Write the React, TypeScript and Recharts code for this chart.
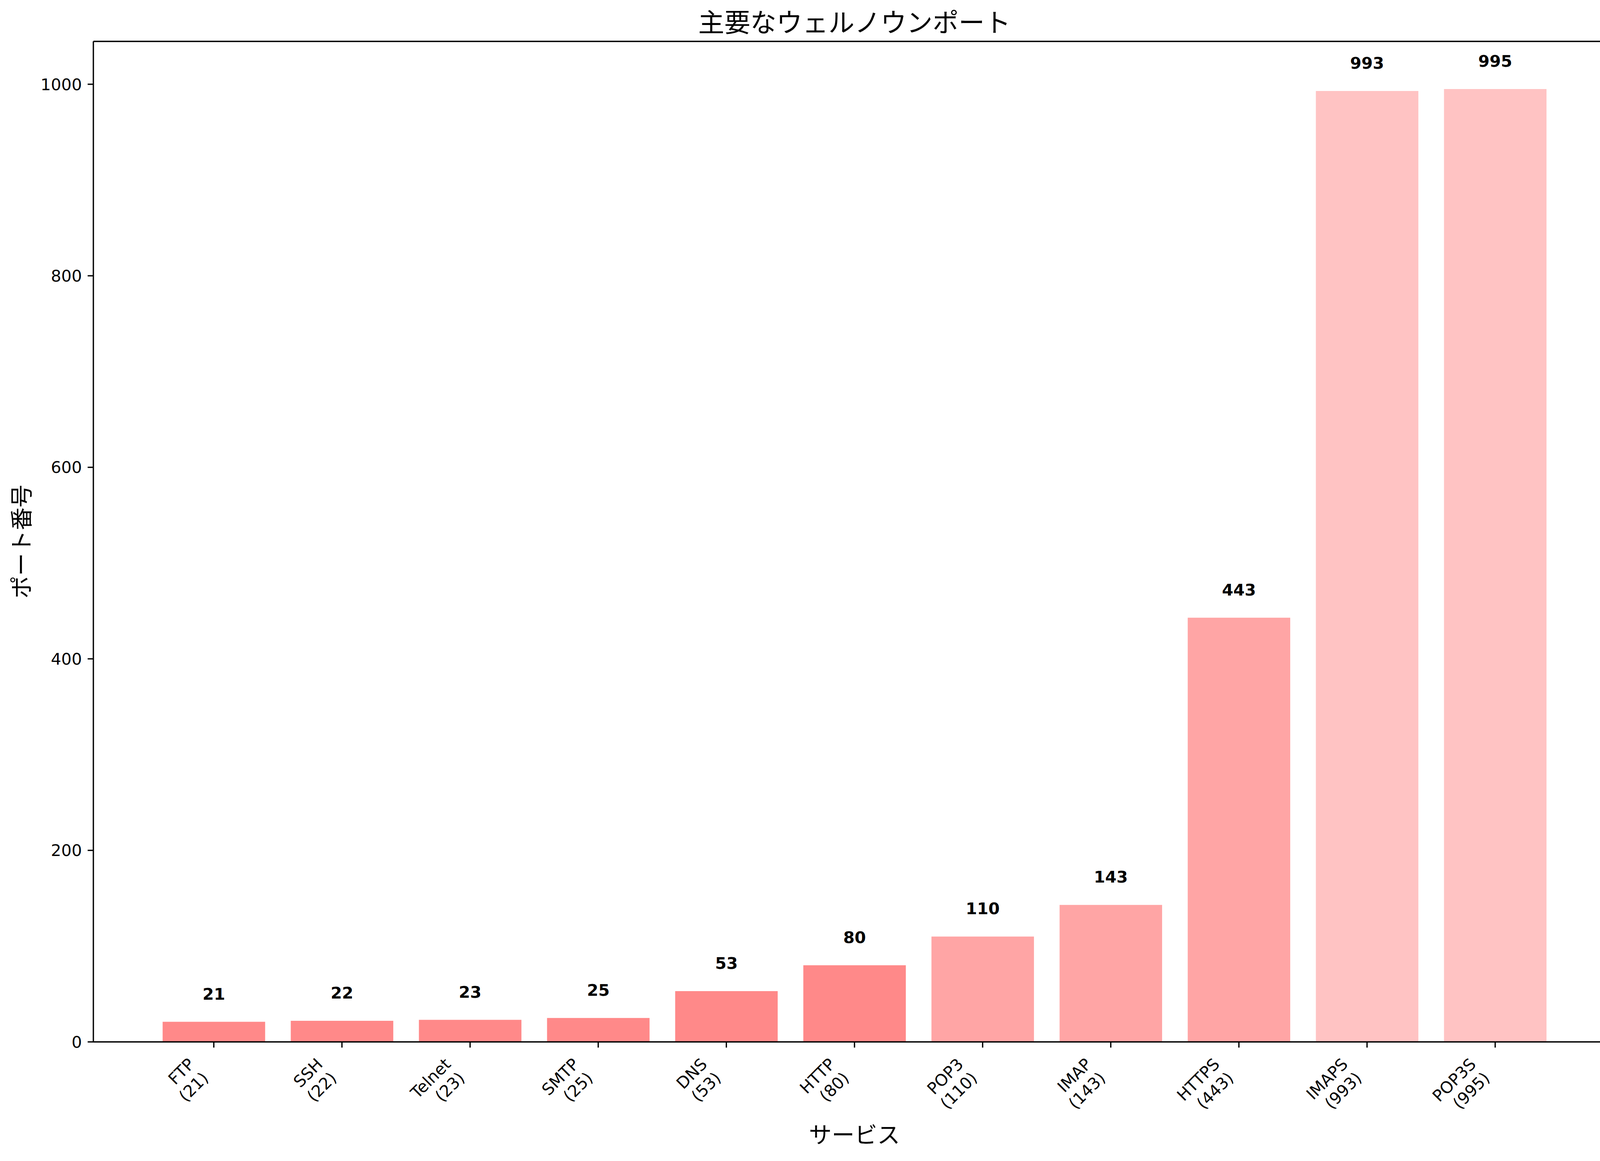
import React from 'react';
import { BarChart, Bar, XAxis, YAxis, Cell, LabelList, ReferenceLine } from 'recharts';

document.body.style.margin = '0';

const SERVICES = ['FTP', 'SSH', 'Telnet', 'SMTP', 'DNS', 'HTTP', 'POP3', 'IMAP', 'HTTPS', 'IMAPS', 'POP3S'];
const PORTS = [21, 22, 23, 25, 53, 80, 110, 143, 443, 993, 995];
const Y_TICKS = [0, 200, 400, 600, 800, 1000];

const W = 4168;
const H = 2973;
const PLOT_L = 239;
const PLOT_R = 4136;
const PLOT_T = 106;
const PLOT_B = 2668;

const FONT = '"DejaVu Sans", "Noto Sans CJK JP", sans-serif';
const PT = 300 / 72; // px per point
const LW = 0.8 * PT;

const N = SERVICES.length;
const PAD = 0.05 * (N - 1 + 0.8);
const X_MIN = -0.4 - PAD;
const X_MAX = N - 1 + 0.4 + PAD;
const Y_MAX = Math.max(...PORTS) * 1.05;
const BAR_PX = 0.8 * (PLOT_R - PLOT_L) / (X_MAX - X_MIN);

const data = SERVICES.map((s, i) => ({ idx: i, name: s, port: PORTS[i] }));

function colorFor(v: number) {
  if (v < 100) return '#FF8989';
  if (v < 500) return '#FFA5A5';
  return '#FFC3C3';
}

// rotated two-line tick label, right-aligned like matplotlib ha='right'
function XTick(props: any) {
  const { x, y, payload } = props;
  const i = payload.value;
  const fs = 10 * PT;
  return (
    <g transform={`translate(${x - 68},${y + 22}) rotate(-45)`}>
      <text textAnchor="end" fontSize={fs} fontFamily={FONT} fill="#000">
        <tspan x={0} y={30}>{SERVICES[i]}</tspan>
        <tspan x={0} y={30 + 50}>({PORTS[i]})</tspan>
      </text>
    </g>
  );
}

function BarValue(props: any) {
  const { x, y, width, value } = props;
  return (
    <text x={x + width / 2} y={y - 57} textAnchor="middle" fontSize={10 * PT}
      fontWeight="bold" fontFamily={FONT} fill="#000">{value}</text>
  );
}

export default function App() {
  const cx = (PLOT_L + PLOT_R) / 2;
  const cy = (PLOT_T + PLOT_B) / 2;
  return (
    <div style={{ position: 'relative', width: W, height: H, background: '#fff' }}>
      <BarChart width={W} height={H} data={data}
        margin={{ top: PLOT_T, right: W - PLOT_R, left: 0, bottom: 0 }}>
        <XAxis type="number" dataKey="idx" domain={[X_MIN, X_MAX]} ticks={data.map(d => d.idx)}
          interval={0} height={H - PLOT_B} tickSize={3.5 * PT} tick={<XTick />}
          axisLine={{ stroke: '#000', strokeWidth: LW }} tickLine={{ stroke: '#000', strokeWidth: LW }} />
        <YAxis type="number" domain={[0, Y_MAX]} ticks={Y_TICKS} width={PLOT_L}
          tickSize={3.5 * PT} tickMargin={3.5 * PT}
          tick={{ fontSize: 10 * PT, fill: '#000', fontFamily: FONT }}
          axisLine={{ stroke: '#000', strokeWidth: LW }} tickLine={{ stroke: '#000', strokeWidth: LW }} />
        <ReferenceLine y={Y_MAX} stroke="#000" strokeWidth={LW} />
        <ReferenceLine x={X_MAX} stroke="#000" strokeWidth={LW} />
        <Bar dataKey="port" barSize={BAR_PX} isAnimationActive={false}>
          {data.map(d => <Cell key={d.name} fill={colorFor(d.port)} />)}
          <LabelList dataKey="port" content={<BarValue />} />
        </Bar>
      </BarChart>
      <svg width={W} height={H} style={{ position: 'absolute', left: 0, top: 0, pointerEvents: 'none' }}>
        <text x={cx} y={82} textAnchor="middle" fontSize={16 * PT} fontFamily={FONT} fill="#000">主要なウェルノウンポート</text>
        <text x={cx} y={2927} textAnchor="middle" fontSize={14 * PT} fontFamily={FONT} fill="#000">サービス</text>
        <text x={0} y={0} transform={`translate(76,${cy}) rotate(-90)`} textAnchor="middle"
          fontSize={14 * PT} fontFamily={FONT} fill="#000">ポート番号</text>
      </svg>
    </div>
  );
}
